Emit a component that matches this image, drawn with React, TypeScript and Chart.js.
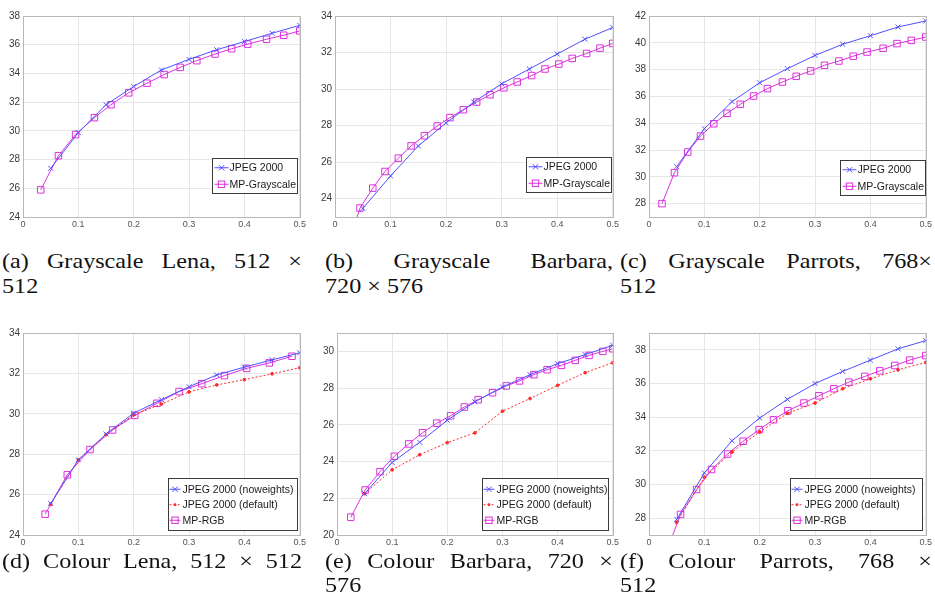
import React, { useEffect, useRef } from 'react';
import { Chart, registerables } from 'chart.js';
Chart.register(...registerables);

// ---------- shared axis data ----------
const xTickValues = [0, 0.1, 0.2, 0.3, 0.4, 0.5];
const xTickLabels = ['0', '0.1', '0.2', '0.3', '0.4', '0.5'];
const jpegRates = [0.05, 0.1, 0.15, 0.2, 0.25, 0.3, 0.35, 0.4, 0.45, 0.5];

const legendGray = ['JPEG 2000', 'MP-Grayscale'];
const legendColour = ['JPEG 2000 (noweights)', 'JPEG 2000 (default)', 'MP-RGB'];

// ---------- (a) Grayscale Lena ----------
const aYTicks = [24, 26, 28, 30, 32, 34, 36, 38];
const aJpeg = [27.39, 29.88, 31.82, 33.09, 34.24, 34.98, 35.65, 36.22, 36.8, 37.35];
const aMpRates = [0.032, 0.064, 0.095, 0.129, 0.159, 0.191, 0.224, 0.255, 0.284, 0.314, 0.347, 0.377, 0.406, 0.44, 0.471, 0.5];
const aMp = [25.89, 28.27, 29.74, 30.92, 31.82, 32.65, 33.32, 33.92, 34.42, 34.89, 35.35, 35.72, 36.04, 36.38, 36.66, 36.96];

// ---------- (b) Grayscale Barbara ----------
const bYTicks = [24, 26, 28, 30, 32, 34];
const bJpeg = [23.47, 25.25, 26.89, 28.15, 29.29, 30.29, 31.1, 31.92, 32.73, 33.37];
const bMpRates = [0.022, 0.045, 0.068, 0.09, 0.114, 0.137, 0.161, 0.184, 0.207, 0.231, 0.255, 0.279, 0.304, 0.328, 0.354, 0.378, 0.403, 0.427, 0.453, 0.477, 0.5];
const bMp = [21.3, 23.49, 24.58, 25.49, 26.22, 26.89, 27.45, 27.98, 28.44, 28.87, 29.29, 29.69, 30.07, 30.39, 30.74, 31.1, 31.37, 31.68, 31.95, 32.24, 32.5];

// ---------- (c) Grayscale Parrots ----------
const cYTicks = [28, 30, 32, 34, 36, 38, 40, 42];
const cJpeg = [30.76, 33.59, 35.61, 37.02, 38.07, 39.06, 39.89, 40.53, 41.18, 41.63];
const cMpRates = [0.0235, 0.046, 0.07, 0.093, 0.117, 0.141, 0.165, 0.189, 0.214, 0.241, 0.266, 0.292, 0.317, 0.343, 0.369, 0.394, 0.423, 0.448, 0.474, 0.5];
const cMp = [28.0, 30.31, 31.85, 33.04, 33.96, 34.74, 35.41, 36.03, 36.58, 37.07, 37.5, 37.9, 38.32, 38.64, 39.0, 39.31, 39.59, 39.94, 40.18, 40.43];

// ---------- (d) Colour Lena ----------
const dYTicks = [24, 26, 28, 30, 32, 34];
const dJpegNw = [25.56, 27.72, 29.0, 30.03, 30.7, 31.34, 31.92, 32.31, 32.67, 33.02];
const dJpegDef = [25.52, 27.72, 28.97, 29.95, 30.48, 31.08, 31.43, 31.69, 31.98, 32.28];
const dMpRates = [0.04, 0.08, 0.121, 0.162, 0.202, 0.242, 0.282, 0.323, 0.364, 0.404, 0.445, 0.486];
const dMp = [25.03, 26.98, 28.23, 29.2, 29.92, 30.52, 31.1, 31.49, 31.89, 32.25, 32.52, 32.85];

// ---------- (e) Colour Barbara ----------
const eYTicks = [20, 22, 24, 26, 28, 30];
const eJpegNw = [22.25, 23.95, 25.05, 26.25, 27.25, 28.06, 28.73, 29.33, 29.82, 30.33];
const eJpegDef = [22.25, 23.55, 24.37, 25.03, 25.56, 26.74, 27.43, 28.15, 28.84, 29.38];
const eMpRates = [0.025, 0.051, 0.078, 0.104, 0.13, 0.155, 0.181, 0.206, 0.231, 0.256, 0.282, 0.307, 0.331, 0.357, 0.381, 0.407, 0.432, 0.457, 0.482, 0.5];
const eMp = [20.97, 22.45, 23.45, 24.29, 24.96, 25.57, 26.09, 26.49, 26.97, 27.37, 27.75, 28.12, 28.39, 28.73, 29.0, 29.24, 29.51, 29.78, 30.0, 30.14];

// ---------- (f) Colour Parrots ----------
const fYTicks = [28, 30, 32, 34, 36, 38];
const fJpegNw = [27.93, 30.69, 32.6, 33.95, 35.06, 36.0, 36.72, 37.39, 38.06, 38.55];
const fJpegDef = [27.75, 30.43, 31.93, 33.12, 34.23, 34.84, 35.69, 36.28, 36.81, 37.25];
const fMpRates = [0.028, 0.057, 0.086, 0.113, 0.142, 0.17, 0.199, 0.225, 0.251, 0.28, 0.307, 0.334, 0.361, 0.39, 0.417, 0.444, 0.471, 0.5];
const fMp = [25.7, 28.22, 29.7, 30.89, 31.81, 32.57, 33.26, 33.85, 34.38, 34.84, 35.27, 35.69, 36.08, 36.42, 36.75, 37.07, 37.39, 37.66];

// ---------- captions ----------
const captionsTop = [
  ['(a) Grayscale Lena, 512 ×', '512'],
  ['(b) Grayscale Barbara,', '720 × 576'],
  ['(c) Grayscale Parrots, 768×', '512'],
];
const captionsBottom = [
  ['(d) Colour Lena, 512 × 512'],
  ['(e) Colour Barbara, 720 ×', '576'],
  ['(f) Colour Parrots, 768 ×', '512'],
];

// ---------- styles ----------
const BLUE = '#5050ff';
const MAGENTA = '#dd30dd';
const RED = '#ff2a2a';
const TICK_FONT = "'Liberation Sans', Arial, sans-serif";

type Kind = 'jpeg' | 'def' | 'mp';
interface Series { kind: Kind; xs: number[]; ys: number[]; }
interface LegendCfg { labels: string[]; kinds: Kind[]; w: number; h: number; right: number; bottom: number; rowH: number; padTop: number; lineStart: number; lineLen: number; textX: number; }
interface PanelCfg { plot: [number, number, number, number]; yMin: number; yMax: number; yTicks: number[]; series: Series[]; legend: LegendCfg; }

const grayLegend = (right: number, bottom: number): LegendCfg => ({
  labels: legendGray, kinds: ['jpeg', 'mp'], w: 85, h: 35, right, bottom, rowH: 16.5, padTop: 1, lineStart: 2, lineLen: 14, textX: 17,
});
const colourLegend = (right: number, w: number): LegendCfg => ({
  labels: legendColour, kinds: ['jpeg', 'def', 'mp'], w, h: 52, right, bottom: 5, rowH: 15.5, padTop: 3, lineStart: 1, lineLen: 11, textX: 14,
});

const panels: PanelCfg[] = [
  { plot: [23, 15, 300, 217], yMin: 24, yMax: 38, yTicks: aYTicks,
    series: [{ kind: 'jpeg', xs: jpegRates, ys: aJpeg }, { kind: 'mp', xs: aMpRates, ys: aMp }], legend: grayLegend(3, 24) },
  { plot: [335, 15, 613, 217], yMin: 23, yMax: 34, yTicks: bYTicks,
    series: [{ kind: 'jpeg', xs: jpegRates, ys: bJpeg }, { kind: 'mp', xs: bMpRates, ys: bMp }], legend: grayLegend(2, 25) },
  { plot: [649, 15, 926, 217], yMin: 27, yMax: 42, yTicks: cYTicks,
    series: [{ kind: 'jpeg', xs: jpegRates, ys: cJpeg }, { kind: 'mp', xs: cMpRates, ys: cMp }], legend: grayLegend(1, 22) },
  { plot: [23, 332, 300, 535], yMin: 24, yMax: 34, yTicks: dYTicks,
    series: [{ kind: 'jpeg', xs: jpegRates, ys: dJpegNw }, { kind: 'def', xs: jpegRates, ys: dJpegDef }, { kind: 'mp', xs: dMpRates, ys: dMp }], legend: colourLegend(3, 129) },
  { plot: [337, 332, 613, 535], yMin: 20, yMax: 31, yTicks: eYTicks,
    series: [{ kind: 'jpeg', xs: jpegRates, ys: eJpegNw }, { kind: 'def', xs: jpegRates, ys: eJpegDef }, { kind: 'mp', xs: eMpRates, ys: eMp }], legend: colourLegend(5, 126) },
  { plot: [649, 332, 926, 535], yMin: 27, yMax: 39, yTicks: fYTicks,
    series: [{ kind: 'jpeg', xs: jpegRates, ys: fJpegNw }, { kind: 'def', xs: jpegRates, ys: fJpegDef }, { kind: 'mp', xs: fMpRates, ys: fMp }], legend: colourLegend(4, 132) },
];

const Y_AXIS_W = 26;
const X_AXIS_H = 16;
const PAD_TOP = 8;
const PAD_RIGHT = 8;

function styleFor(kind: Kind) {
  if (kind === 'jpeg') return { color: BLUE, pointStyle: 'crossRot', radius: 3.5, dash: [] as number[], fill: 'transparent' };
  if (kind === 'def') return { color: RED, pointStyle: 'circle', radius: 1.4, dash: [2, 2], fill: RED };
  return { color: MAGENTA, pointStyle: 'rect', radius: 4.6, dash: [] as number[], fill: 'transparent' };
}

function drawMarker(ctx: CanvasRenderingContext2D, kind: Kind, x: number, y: number) {
  const s = styleFor(kind);
  ctx.save();
  ctx.strokeStyle = s.color;
  ctx.fillStyle = s.color;
  ctx.lineWidth = 1;
  ctx.setLineDash([]);
  if (kind === 'jpeg') {
    const r = 2.6;
    ctx.beginPath();
    ctx.moveTo(x - r, y - r); ctx.lineTo(x + r, y + r);
    ctx.moveTo(x + r, y - r); ctx.lineTo(x - r, y + r);
    ctx.stroke();
  } else if (kind === 'def') {
    ctx.beginPath(); ctx.arc(x, y, 1.4, 0, Math.PI * 2); ctx.fill();
  } else {
    ctx.strokeRect(x - 3.2, y - 3.2, 6.4, 6.4);
  }
  ctx.restore();
}

function makeDecor(cfg: PanelCfg) {
  return {
    id: 'decor',
    afterDatasetsDraw(chart: any) {
      const ctx: CanvasRenderingContext2D = chart.ctx;
      const a = chart.chartArea;
      ctx.save();
      ctx.strokeStyle = '#b8b8b8';
      ctx.lineWidth = 1;
      ctx.strokeRect(Math.round(a.left) + 0.5, Math.round(a.top) + 0.5, Math.round(a.right - a.left), Math.round(a.bottom - a.top));
      const L = cfg.legend;
      const x1 = Math.round(a.right - L.right - L.w) + 0.5;
      const y1 = Math.round(a.bottom - L.bottom - L.h) + 0.5;
      ctx.fillStyle = '#ffffff';
      ctx.fillRect(x1, y1, L.w, L.h);
      ctx.strokeStyle = '#3a3a3a';
      ctx.strokeRect(x1, y1, L.w, L.h);
      ctx.font = `10.5px ${TICK_FONT}`;
      ctx.textBaseline = 'middle';
      ctx.textAlign = 'left';
      L.labels.forEach((label, i) => {
        const kind = L.kinds[i];
        const s = styleFor(kind);
        const y = y1 + L.padTop + (i + 0.5) * L.rowH;
        ctx.save();
        ctx.strokeStyle = s.color;
        ctx.lineWidth = 1;
        ctx.setLineDash(s.dash);
        ctx.beginPath();
        ctx.moveTo(x1 + L.lineStart, y);
        ctx.lineTo(x1 + L.lineStart + L.lineLen, y);
        ctx.stroke();
        ctx.restore();
        drawMarker(ctx, kind, x1 + L.lineStart + L.lineLen / 2, y);
        ctx.fillStyle = '#1a1a1a';
        ctx.fillText(label, x1 + L.textX, y + 0.5);
      });
      ctx.restore();
    },
  };
}

function Panel({ cfg }: { cfg: PanelCfg }) {
  const ref = useRef<HTMLCanvasElement>(null);
  const [pl, pt, pr, pb] = cfg.plot;
  const left = pl - Y_AXIS_W;
  const top = pt - PAD_TOP;
  const w = pr - pl + Y_AXIS_W + PAD_RIGHT;
  const h = pb - pt + PAD_TOP + X_AXIS_H;

  useEffect(() => {
    const datasets = cfg.series.map((s) => {
      const st = styleFor(s.kind);
      return {
        data: s.xs.map((x, i) => ({ x, y: s.ys[i] })),
        borderColor: st.color,
        backgroundColor: st.fill,
        borderWidth: 1,
        borderDash: st.dash,
        pointStyle: st.pointStyle,
        pointRadius: st.radius,
        pointBorderColor: st.color,
        pointBackgroundColor: st.fill,
        pointBorderWidth: 1,
        tension: 0,
        fill: false,
      };
    });
    const chart = new Chart(ref.current!, {
      type: 'line',
      data: { datasets } as any,
      options: {
        animation: false,
        responsive: false,
        devicePixelRatio: 1,
        events: [],
        layout: { padding: { top: PAD_TOP, right: PAD_RIGHT, left: 0, bottom: 0 } },
        plugins: { legend: { display: false }, tooltip: { enabled: false } },
        scales: {
          x: {
            type: 'linear',
            min: 0,
            max: 0.5,
            afterBuildTicks: (scale: any) => { scale.ticks = xTickValues.map((v) => ({ value: v })); },
            afterFit: (scale: any) => { scale.height = X_AXIS_H; },
            ticks: {
              callback: (_v: any, i: number) => xTickLabels[i],
              font: { family: TICK_FONT, size: 9 },
              color: '#555555',
              padding: 2,
              maxRotation: 0,
              autoSkip: false,
            },
            grid: { color: '#e6e6e6', drawTicks: false, lineWidth: 1 },
            border: { display: false },
          },
          y: {
            type: 'linear',
            min: cfg.yMin,
            max: cfg.yMax,
            afterBuildTicks: (scale: any) => { scale.ticks = cfg.yTicks.map((v) => ({ value: v })); },
            afterFit: (scale: any) => { scale.width = Y_AXIS_W; },
            ticks: {
              callback: (v: any) => String(v),
              font: { family: TICK_FONT, size: 10 },
              color: '#3a3a3a',
              padding: 3,
              autoSkip: false,
            },
            grid: { color: '#e6e6e6', drawTicks: false, lineWidth: 1 },
            border: { display: false },
          },
        },
      } as any,
      plugins: [makeDecor(cfg)],
    });
    return () => chart.destroy();
  }, []);

  return (
    <div style={{ position: 'absolute', left, top, width: w, height: h }}>
      <canvas ref={ref} width={w} height={h} style={{ width: w, height: h, display: 'block' }} />
    </div>
  );
}

const captionCols = [
  [2, 302],
  [325, 613],
  [620, 932],
];
const CAPTION_STRETCH = 1.15;

function Caption({ lines, x0, x1, tops }: { lines: string[]; x0: number; x1: number; tops: number[] }) {
  return (
    <>
      {lines.map((line, i) => {
        const justify = i < lines.length - 1 || lines.length === 1;
        return (
          <div
            key={i}
            style={{
              position: 'absolute',
              left: x0,
              top: tops[i],
              width: (x1 - x0) / CAPTION_STRETCH,
              transform: `scaleX(${CAPTION_STRETCH})`,
              transformOrigin: 'left top',
              fontFamily: "'Liberation Serif', 'Times New Roman', serif",
              fontSize: 21,
              lineHeight: '21px',
              whiteSpace: 'nowrap',
              textAlign: justify ? 'justify' : 'left',
              textAlignLast: justify ? 'justify' : 'left',
              color: '#111',
            } as any}
          >
            {line}
          </div>
        );
      })}
    </>
  );
}

export default function App() {
  return (
    <div style={{ position: 'fixed', left: 0, top: 0, width: 935, height: 607, background: '#ffffff', overflow: 'hidden' }}>
      {panels.map((p, i) => <Panel key={i} cfg={p} />)}
      {captionsTop.map((lines, i) => (
        <Caption key={'t' + i} lines={lines} x0={captionCols[i][0]} x1={captionCols[i][1]} tops={[251, 275.5]} />
      ))}
      {captionsBottom.map((lines, i) => (
        <Caption key={'b' + i} lines={lines} x0={captionCols[i][0]} x1={captionCols[i][1]} tops={[550.5, 575]} />
      ))}
    </div>
  );
}
